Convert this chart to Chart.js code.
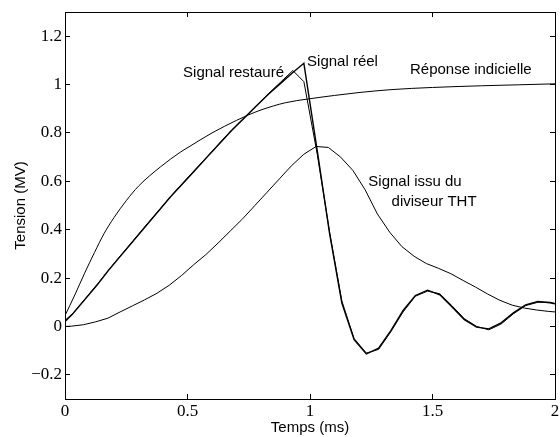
<!DOCTYPE html>
<html><head><meta charset="utf-8">
<script src="https://cdn.jsdelivr.net/npm/chart.js@4.4.1/dist/chart.umd.min.js"></script>
<style>html,body{margin:0;padding:0;background:#fff;} #wrap{width:560px;height:437px;}</style>
</head><body><div id="wrap"><canvas id="c" width="560" height="437"></canvas></div>
<script>
// Axis ticks
const xTicks = [0, 0.5, 1, 1.5, 2];
const xTickLabels = ['0', '0.5', '1', '1.5', '2'];
const yTicks = [-0.2, 0, 0.2, 0.4, 0.6, 0.8, 1, 1.2];
const yTickLabels = ['\u22120.2', '0', '0.2', '0.4', '0.6', '0.8', '1', '1.2'];

// Signal réel
const realT = [0, 0.03, 0.08, 0.13, 0.18, 0.23, 0.28, 0.33, 0.38, 0.43, 0.48, 0.53, 0.58, 0.63, 0.68, 0.73, 0.78, 0.83, 0.88, 0.93, 0.975, 1.03, 1.08, 1.13, 1.18, 1.23, 1.28, 1.33, 1.38, 1.43, 1.48, 1.53, 1.58, 1.63, 1.68, 1.73, 1.78, 1.83, 1.88, 1.93, 1.98, 2.0];
const realV = [0.02, 0.05, 0.11, 0.17, 0.235, 0.295, 0.355, 0.415, 0.475, 0.535, 0.59, 0.645, 0.70, 0.755, 0.81, 0.86, 0.91, 0.96, 1.005, 1.05, 1.088, 0.724, 0.384, 0.097, -0.055, -0.114, -0.09, -0.017, 0.066, 0.128, 0.150, 0.131, 0.08, 0.028, -0.003, -0.01, 0.015, 0.056, 0.089, 0.103, 0.098, 0.093];

// Signal restauré
const restT = [0, 0.03, 0.08, 0.13, 0.18, 0.23, 0.28, 0.33, 0.38, 0.43, 0.48, 0.53, 0.58, 0.63, 0.68, 0.73, 0.78, 0.83, 0.88, 0.93, 0.975, 1.03, 1.08, 1.13, 1.18, 1.23, 1.28, 1.33, 1.38, 1.43, 1.48, 1.53, 1.58, 1.63, 1.68, 1.73, 1.78, 1.83, 1.88, 1.93, 1.98, 2.0];
const restV = [0.025, 0.052, 0.112, 0.172, 0.236, 0.297, 0.356, 0.417, 0.476, 0.536, 0.592, 0.647, 0.702, 0.757, 0.812, 0.862, 0.912, 0.962, 1.01, 1.058, 1.012, 0.71, 0.39, 0.105, -0.05, -0.11, -0.095, -0.022, 0.06, 0.125, 0.146, 0.135, 0.085, 0.032, 0.0, -0.014, 0.01, 0.052, 0.086, 0.1, 0.1, 0.095];

// Réponse indicielle
const stepT = [0, 0.04, 0.08, 0.12, 0.16, 0.2, 0.25, 0.3, 0.39, 0.47, 0.51, 0.6, 0.7, 0.75, 0.8, 0.9, 0.99, 1.1, 1.2, 1.33, 1.5, 1.7, 1.85, 2.0];
const stepV = [0.045, 0.13, 0.22, 0.305, 0.385, 0.45, 0.52, 0.58, 0.66, 0.72, 0.745, 0.80, 0.852, 0.875, 0.895, 0.925, 0.94, 0.955, 0.967, 0.979, 0.988, 0.995, 0.999, 1.003];

// Signal issu du diviseur THT
const divT = [0, 0.025, 0.075, 0.125, 0.175, 0.225, 0.275, 0.325, 0.375, 0.425, 0.475, 0.525, 0.575, 0.625, 0.675, 0.725, 0.775, 0.825, 0.875, 0.925, 0.975, 1.025, 1.075, 1.125, 1.175, 1.225, 1.275, 1.325, 1.375, 1.425, 1.475, 1.525, 1.575, 1.625, 1.675, 1.725, 1.775, 1.825, 1.875, 1.925, 1.975, 2.0];
const divV = [0, 0.001, 0.007, 0.019, 0.034, 0.06, 0.085, 0.11, 0.137, 0.17, 0.21, 0.255, 0.297, 0.345, 0.395, 0.445, 0.50, 0.555, 0.61, 0.665, 0.712, 0.744, 0.740, 0.70, 0.645, 0.565, 0.465, 0.39, 0.33, 0.29, 0.26, 0.24, 0.218, 0.19, 0.163, 0.134, 0.108, 0.088, 0.076, 0.068, 0.062, 0.06];

const annotationTexts = ['Signal restauré', 'Signal réel', 'Réponse indicielle', 'Signal issu du', 'diviseur THT'];

const toXY = (ts, vs) => ts.map((t, i) => ({x: t, y: vs[i]}));

const annotationPlugin = {
  id: 'annot',
  afterDatasetsDraw(chart) {
    const anchors = [[0.482, 1.048], [0.988, 1.094], [1.408, 1.06], [1.238, 0.598], [1.333, 0.515]];
    const {ctx, scales} = chart;
    ctx.save();
    ctx.font = '15px "Liberation Sans", Arial, sans-serif';
    ctx.fillStyle = '#000';
    ctx.textAlign = 'left';
    ctx.textBaseline = 'middle';
    annotationTexts.forEach((txt, i) => {
      ctx.fillText(txt, scales.x.getPixelForValue(anchors[i][0]), scales.y.getPixelForValue(anchors[i][1]));
    });
    ctx.restore();
  }
};

const serif = {family: '"Liberation Serif", "Times New Roman", serif', size: 17};
const sans = {family: '"Liberation Sans", Arial, sans-serif', size: 15};
const gridOpts = {drawOnChartArea: false, drawTicks: true, tickLength: -5, color: '#000', lineWidth: 1};
const borderOpts = {display: true, color: '#000', width: 1};

const noPad = s => { s.paddingLeft = 0; s.paddingRight = 0; s.paddingTop = 0; s.paddingBottom = 0; };

const line = (data, w, mono) => ({
  data, borderColor: '#000', borderWidth: w, pointRadius: 0, fill: false,
  tension: mono ? 0.4 : 0, cubicInterpolationMode: mono ? 'monotone' : 'default'
});

new Chart(document.getElementById('c'), {
  type: 'line',
  data: {
    datasets: [
      line(toXY(stepT, stepV), 1, true),
      line(toXY(divT, divV), 1, false),
      line(toXY(restT, restV), 1, false),
      line(toXY(realT, realV), 1.4, false)
    ]
  },
  options: {
    responsive: false, animation: false, devicePixelRatio: 1,
    layout: {padding: {top: 12, right: 5, left: 0, bottom: 0}},
    plugins: {legend: {display: false}, tooltip: {enabled: false}},
    scales: {
      x: {
        type: 'linear', position: 'bottom', min: 0, max: 2,
        afterBuildTicks: s => { s.ticks = xTicks.map(v => ({value: v})); },
        afterFit: s => { s.height = 38; noPad(s); },
        ticks: {callback: (v, i) => xTickLabels[i], font: serif, color: '#000', padding: 7, maxRotation: 0, autoSkip: false},
        grid: gridOpts, border: borderOpts,
        title: {display: true, text: 'Temps (ms)', font: sans, color: '#000', padding: {top: 0, bottom: 0}}
      },
      x2: {
        type: 'linear', position: 'top', min: 0, max: 2,
        afterBuildTicks: s => { s.ticks = xTicks.map(v => ({value: v})); },
        afterFit: s => { s.height = 0; noPad(s); },
        ticks: {display: false}, grid: gridOpts, border: borderOpts
      },
      y: {
        type: 'linear', position: 'left', min: -0.3, max: 1.3,
        afterBuildTicks: s => { s.ticks = yTicks.map(v => ({value: v})); },
        afterFit: s => { s.width = 65; noPad(s); },
        ticks: {callback: (v, i) => yTickLabels[i], font: serif, color: '#000', padding: 8, autoSkip: false},
        grid: gridOpts, border: borderOpts,
        title: {display: true, text: 'Tension (MV)', font: sans, color: '#000', padding: {top: 12, bottom: 0}}
      },
      y2: {
        type: 'linear', position: 'right', min: -0.3, max: 1.3,
        afterBuildTicks: s => { s.ticks = yTicks.map(v => ({value: v})); },
        afterFit: s => { s.width = 0; noPad(s); },
        ticks: {display: false}, grid: gridOpts, border: borderOpts
      }
    }
  },
  plugins: [annotationPlugin]
});
</script>
</body></html>
